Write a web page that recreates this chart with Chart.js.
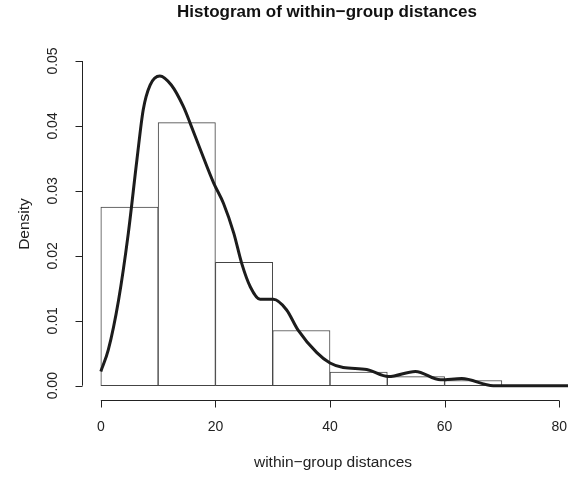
<!DOCTYPE html>
<html>
<head>
<meta charset="utf-8">
<script src="https://cdn.jsdelivr.net/npm/chart.js@4/dist/chart.umd.min.js"></script>
<style>
  html, body { margin: 0; padding: 0; background: #fff; overflow: hidden; }
  canvas { display: block; }
</style>
</head>
<body>
<canvas id="chart-hist" width="568" height="477"></canvas>
<script>
// histogram bins (width 10), density per bin
const binMids   = [5, 15, 25, 35, 45, 55, 65];
const binDens   = [0.0275, 0.0405, 0.019, 0.0085, 0.0021, 0.0014, 0.0008];

// kernel density curve
const kdeX = [0, 1.3, 3.1, 4.8, 6.3, 7.4, 8.6, 10.3, 12.3, 14.4, 15.6, 17.4, 19.7, 21.4, 23.2, 24.6,
              26.1, 27.8, 30.1, 32.4, 34.4, 37.7, 40, 42.3, 46.4, 50.2, 54.9, 59.3, 63, 68.5, 72, 76, 81.6];
const kdeY = [0.0022, 0.0055, 0.0132, 0.0235, 0.0348, 0.0425, 0.0463, 0.0477, 0.0463, 0.043, 0.0404, 0.0363,
              0.0312, 0.0281, 0.0235, 0.0188, 0.0152, 0.0133, 0.0133, 0.0117, 0.0086, 0.0051, 0.0035, 0.0028,
              0.0025, 0.0014, 0.0022, 0.0009, 0.0011, 0, 0, 0, 0];

const xTicks = [0, 20, 40, 60, 80];
const yTicks = [0, 0.01, 0.02, 0.03, 0.04, 0.05];
const yTickLabels = ['0.00', '0.01', '0.02', '0.03', '0.04', '0.05'];

const TITLE  = 'Histogram of within\u2212group distances';
const XLABEL = 'within\u2212group distances';
const YLABEL = 'Density';

const FONT = '"Liberation Sans", Arial, Helvetica, sans-serif';
const INK  = '#222';

// R-style axes and titles drawn on top of the plot
const rAxes = {
    id: 'rAxes',
    afterDraw(chart) {
        const { ctx, scales: { x, y } } = chart;
        ctx.save();
        ctx.strokeStyle = INK;
        ctx.fillStyle = INK;
        ctx.lineWidth = 1;

        // x axis
        const ax = Math.round(y.bottom) + 0.5;
        ctx.beginPath();
        ctx.moveTo(x.getPixelForValue(xTicks[0]), ax);
        ctx.lineTo(x.getPixelForValue(xTicks[xTicks.length - 1]), ax);
        for (const t of xTicks) {
            const px = Math.round(x.getPixelForValue(t)) + 0.5;
            ctx.moveTo(px, ax);
            ctx.lineTo(px, ax + 7);
        }
        ctx.stroke();
        ctx.font = `14px ${FONT}`;
        ctx.textAlign = 'center';
        ctx.textBaseline = 'middle';
        for (const t of xTicks) ctx.fillText(String(t), x.getPixelForValue(t), 427);

        // y axis
        const ay = Math.round(x.left) - 0.5;
        ctx.beginPath();
        ctx.moveTo(ay, y.getPixelForValue(yTicks[0]));
        ctx.lineTo(ay, y.getPixelForValue(yTicks[yTicks.length - 1]));
        for (const t of yTicks) {
            const py = Math.round(y.getPixelForValue(t)) + 0.5;
            ctx.moveTo(ay, py);
            ctx.lineTo(ay - 7, py);
        }
        ctx.stroke();
        yTicks.forEach((t, i) => {
            ctx.save();
            ctx.translate(53, y.getPixelForValue(t));
            ctx.rotate(-Math.PI / 2);
            ctx.fillText(yTickLabels[i], 0, 0);
            ctx.restore();
        });

        // axis titles
        const cx = x.getPixelForValue(40);
        ctx.font = `15.5px ${FONT}`;
        ctx.fillText(XLABEL, cx + 3, 463);
        ctx.save();
        ctx.translate(25, (y.top + y.bottom) / 2);
        ctx.rotate(-Math.PI / 2);
        ctx.fillText(YLABEL, 0, 0);
        ctx.restore();

        ctx.font = `bold 17px ${FONT}`;
        ctx.fillStyle = '#111';
        ctx.fillText(TITLE, cx - 3, 12);
        ctx.restore();
    }
};

const ctx = document.getElementById('chart-hist').getContext('2d');

new Chart(ctx, {
    type: 'bar',
    data: {
        datasets: [
            {
                type: 'line',
                label: 'density',
                data: kdeX.map((v, i) => ({ x: v, y: kdeY[i] })),
                borderColor: '#1c1c1c',
                borderWidth: 3,
                pointRadius: 0,
                fill: false,
                cubicInterpolationMode: 'monotone',
                order: 0
            },
            {
                label: 'histogram',
                data: binMids.map((v, i) => ({ x: v, y: binDens[i] })),
                backgroundColor: '#ffffff',
                borderColor: '#444',
                borderWidth: 1,
                borderSkipped: false,
                barPercentage: 1,
                categoryPercentage: 1,
                order: 1
            }
        ]
    },
    options: {
        responsive: false,
        devicePixelRatio: 1,
        animation: false,
        layout: { padding: { left: 82.5, right: 0, top: 48, bottom: 77 } },
        plugins: {
            legend: { display: false },
            tooltip: { enabled: false }
        },
        scales: {
            x: { type: 'linear', offset: false, min: -3.2, max: 81.54, display: false },
            y: { min: -0.0022, max: 0.052, display: false }
        }
    },
    plugins: [rAxes]
});
</script>
</body>
</html>
